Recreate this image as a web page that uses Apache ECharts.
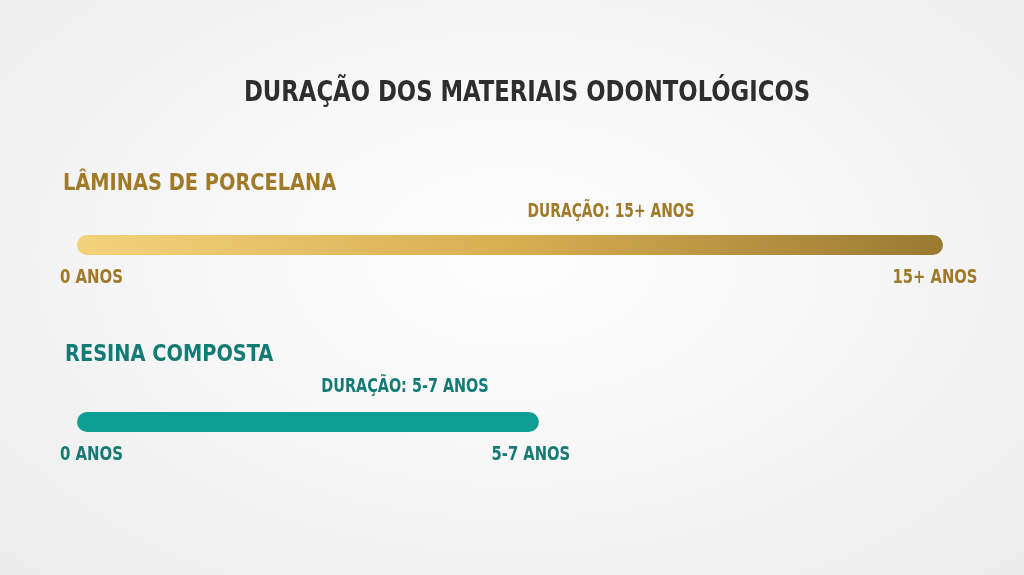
<!DOCTYPE html>
<html>
<head>
<meta charset="utf-8">
<script src="https://cdn.jsdelivr.net/npm/echarts@6/dist/echarts.min.js"></script>
<style>
html,body{margin:0;padding:0;width:1024px;height:575px;overflow:hidden;
background: radial-gradient(ellipse at 50% 45%, #fdfdfd 0%, #f7f7f7 45%, #ececec 100%);}
#c{width:1024px;height:575px;}
</style>
</head>
<body>
<div id="c"></div>
<script>
const titleText = 'DURAÇÃO DOS MATERIAIS ODONTOLÓGICOS';
const categories = ['LÂMINAS DE PORCELANA', 'RESINA COMPOSTA'];
const durations = [15, 8];
const durationLabels = ['DURAÇÃO: 15+ ANOS', 'DURAÇÃO: 5-7 ANOS'];
const startLabels = ['0 ANOS', '0 ANOS'];
const endLabels = ['15+ ANOS', '5-7 ANOS'];
const axisMax = 15;

const FONT = "'DejaVu Sans Condensed', 'DejaVu Sans', sans-serif";
const textColors = ['#a07a28', '#147a76'];
const barColors = [
  new echarts.graphic.LinearGradient(0, 0, 1, 0, [
    {offset: 0, color: '#f3d27c'},
    {offset: 0.5, color: '#d8ae52'},
    {offset: 1, color: '#9a7a32'}
  ]),
  '#0f9e94'
];
const gridTops = [235, 412];

const chart = echarts.init(document.getElementById('c'), null, {renderer: 'canvas'});

const grids = gridTops.map(t => ({left: 77, right: 81, top: t, height: 20}));
const xAxes = gridTops.map((t, i) => ({type: 'value', gridIndex: i, min: 0, max: axisMax, show: false}));
const yAxes = gridTops.map((t, i) => ({type: 'category', gridIndex: i, data: [categories[i]], show: false}));
const series = durations.map((v, i) => ({
  type: 'bar', xAxisIndex: i, yAxisIndex: i, barWidth: 20,
  data: [v], silent: true,
  itemStyle: {color: barColors[i], borderRadius: 10},
  animation: false
}));

chart.setOption({
  animation: false,
  backgroundColor: 'transparent',
  grid: grids, xAxis: xAxes, yAxis: yAxes, series: series
});

function txt(text, x, y, size, color, align, sx) {
  return {type: 'text', x: x, y: y, scaleX: sx, style: {
    text: text, font: "bold " + size + "px " + FONT, fill: color,
    textVerticalAlign: 'middle', textAlign: align}};
}

const g = [];
g.push(txt(titleText, 527, 93, 29, '#2e2e2e', 'center', 0.872));
const catX = [63, 65];
const catY = [184, 355];
const durY = [212, 387];
const durX = [611, 405];
const durScale = [0.77, 0.8];
durations.forEach((v, i) => {
  const p0 = chart.convertToPixel({gridIndex: i}, [0, 0]);
  const p1 = chart.convertToPixel({gridIndex: i}, [v, 0]);
  const labY = gridTops[i] + 43;
  g.push(txt(categories[i], catX[i], catY[i], 23, textColors[i], 'left', 0.936));
  g.push(txt(durationLabels[i], durX[i], durY[i], 20, textColors[i], 'center', durScale[i]));
  g.push(txt(startLabels[i], p0[0] + 14.5, labY, 20, textColors[i], 'center', 0.83));
  g.push(txt(endLabels[i], p1[0] - 8, labY, 20, textColors[i], 'center', 0.82));
});
chart.setOption({graphic: g});
</script>
</body>
</html>
